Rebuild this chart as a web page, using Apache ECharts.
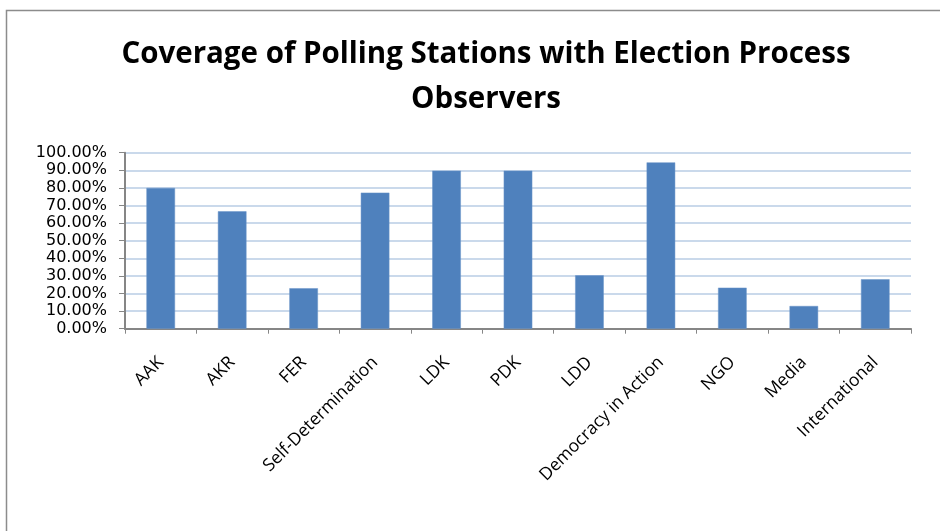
<!DOCTYPE html>
<html>
<head>
<meta charset="utf-8">
<script src="https://cdn.jsdelivr.net/npm/echarts@6/dist/echarts.min.js"></script>
<style>
html,body{margin:0;padding:0;background:#fff;}
#chart{width:940px;height:531px;}
</style>
</head>
<body>
<div id="chart"></div>
<script>
var categories = ['AAK', 'AKR', 'FER', 'Self-Determination', 'LDK', 'PDK', 'LDD', 'Democracy in Action', 'NGO', 'Media', 'International'];
var coverage = [0.80, 0.667, 0.23, 0.773, 0.898, 0.898, 0.303, 0.945, 0.233, 0.129, 0.281];
var yTicks = [0, 0.1, 0.2, 0.3, 0.4, 0.5, 0.6, 0.7, 0.8, 0.9, 1.0];
var titleText = 'Coverage of Polling Stations with Election Process\nObservers';

var FONT = 'Open Sans';
var chart = echarts.init(document.getElementById('chart'));
chart.setOption({
  backgroundColor: '#ffffff',
  animation: false,
  title: {
    text: titleText,
    left: 481,
    top: 27,
    textAlign: 'center',
    textStyle: {
      fontFamily: FONT,
      fontWeight: 'bold',
      fontSize: 29.5,
      lineHeight: 45,
      color: '#000000'
    }
  },
  graphic: [{
    type: 'rect',
    shape: { x: 6.5, y: 10.5, width: 980, height: 600 },
    style: { fill: 'none', stroke: '#8c8c8c', lineWidth: 1.5 },
    silent: true
  }],
  grid: { left: 125, right: 29, top: 152.7, bottom: 202.3 },
  xAxis: {
    type: 'category',
    data: categories,
    axisLine: { lineStyle: { color: '#868686', width: 2 } },
    axisTick: { show: true, length: 5, interval: 0, lineStyle: { color: '#868686', width: 1 } },
    axisLabel: {
      interval: 0,
      rotate: 45,
      margin: 31,
      hideOverlap: false,
      fontFamily: FONT,
      fontSize: 17.5,
      color: '#000000'
    },
    splitLine: { show: false }
  },
  yAxis: {
    type: 'value',
    min: 0,
    max: 1,
    interval: 0.1,
    axisLine: { show: true, lineStyle: { color: '#868686', width: 2 } },
    axisTick: { show: true, length: 6, lineStyle: { color: '#868686', width: 1 } },
    axisLabel: {
      margin: 18,
      showMinLabel: true,
      showMaxLabel: true,
      fontFamily: 'DejaVu Sans',
      fontSize: 16,
      color: '#000000',
      formatter: function (v) {
        var idx = yTicks.findIndex(function (t) { return Math.abs(t - v) < 1e-9; });
        return (idx >= 0 ? (yTicks[idx] * 100).toFixed(2) : (v * 100).toFixed(2)) + '%';
      }
    },
    splitLine: { show: true, lineStyle: { color: '#b9cde5', width: 1.5 } }
  },
  series: [{
    type: 'bar',
    data: coverage,
    barWidth: '40%',
    itemStyle: { color: '#4f81bd', borderColor: '#6b95c8', borderWidth: 0.5 }
  }]
});
</script>
</body>
</html>
